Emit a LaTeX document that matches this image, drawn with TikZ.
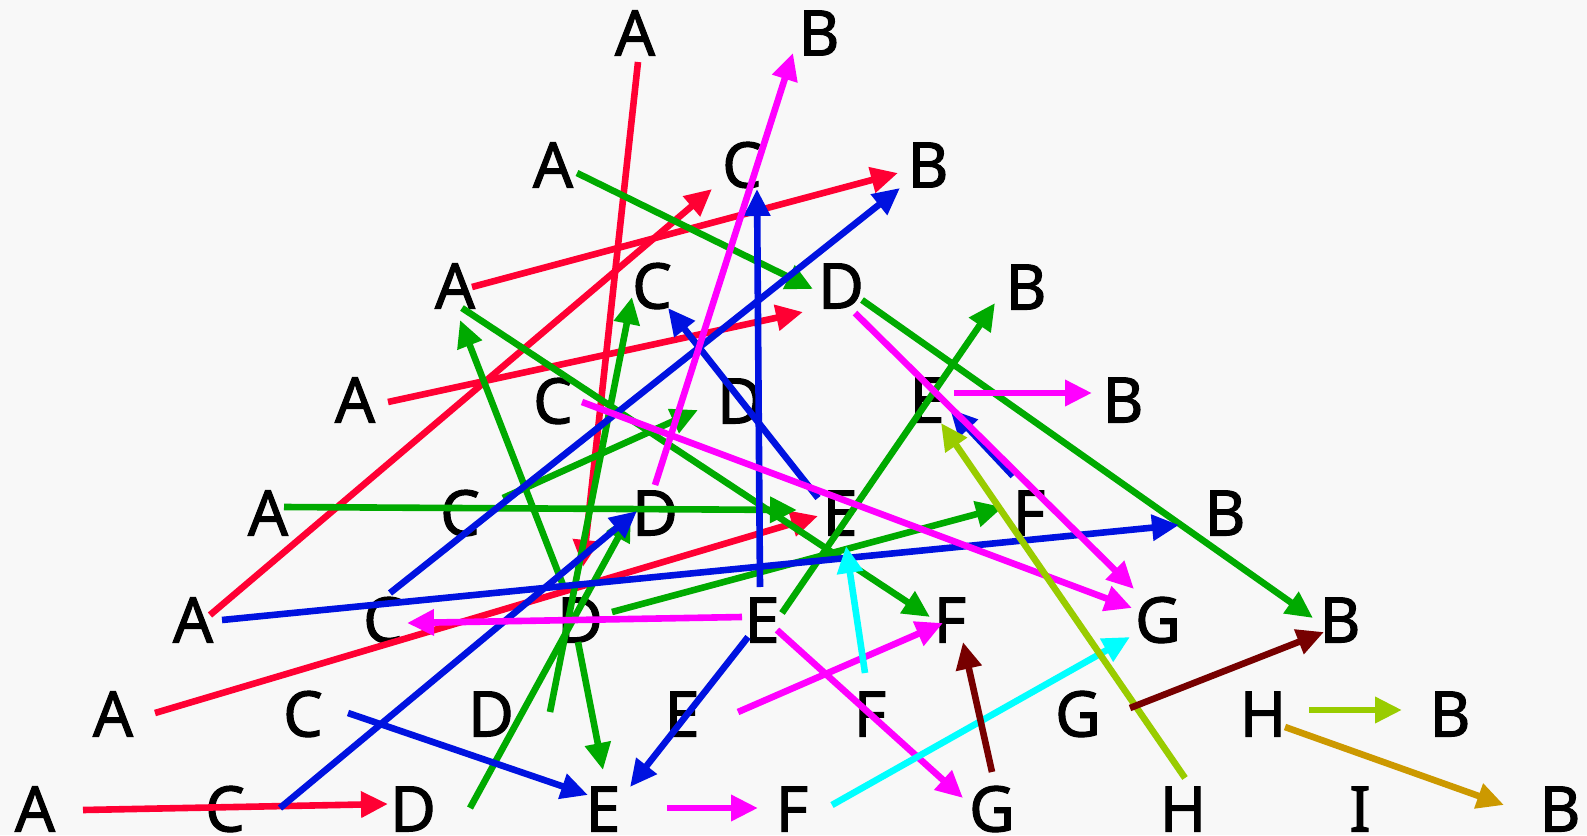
\documentclass[tikz,border=0pt]{standalone}
\usepackage{fontspec}
\setmainfont{Noto Sans}
\newfontfamily\lblfont{Noto Sans}[BoldFont={Noto Sans},BoldFeatures={FakeBold=1.6}]
\usetikzlibrary{arrows.meta,calc}
\definecolor{bgcol}{HTML}{F8F8F8}
\definecolor{cRed}{HTML}{FF0033}
\definecolor{cGreen}{HTML}{00AA00}
\definecolor{cBlue}{HTML}{0012E0}
\definecolor{cMag}{HTML}{FF00FF}
\definecolor{cCyan}{HTML}{00FFFF}
\definecolor{cOlive}{HTML}{99CC00}
\definecolor{cDark}{HTML}{770000}
\definecolor{cGold}{HTML}{CC9900}
\tikzset{
  lbl/.style={inner sep=0pt, text=black, font=\lblfont\bfseries\fontsize{63}{63}\selectfont},
  conn/.style={line width=6.6pt, -{Triangle[length=27pt,width=25pt]}},
}
% connector from (node + offset) to (node + offset)
\newcommand\link[5]{\draw[conn,#1] ($(#2)+(#3)$) -- ($(#4)+(#5)$);}
\begin{document}
\begin{tikzpicture}[x=1pt,y=-1pt]
\fill[bgcol] (0,0) rectangle (1587,835);
\useasboundingbox (0,0) rectangle (1587,835);
% row 1
\node[lbl] (a1) at (635,33) {A};
\node[lbl] (b1) at (819,33) {B};
% row 2
\node[lbl] (a2) at (553,165) {A};
\node[lbl] (c2) at (742,165) {C};
\node[lbl] (b2) at (928,165) {B};
% row 3
\node[lbl] (a3) at (455,286) {A};
\node[lbl] (c3) at (652,286) {C};
\node[lbl] (d3) at (841,286) {D};
\node[lbl] (b3) at (1026,287) {B};
% row 4
\node[lbl] (a4) at (355,400) {A};
\node[lbl] (c4) at (553,401) {C};
\node[lbl] (d4) at (740,401) {D};
\node[lbl] (e4) at (927,400) {E};
\node[lbl] (b4) at (1123,400) {B};
% row 5
\node[lbl] (a5) at (268,513) {A};
\node[lbl] (c5) at (460,513) {C};
\node[lbl] (d5) at (655,513) {D};
\node[lbl] (e5) at (840,513) {E};
\node[lbl] (f5) at (1029,513) {F};
\node[lbl] (b5) at (1225,513) {B};
% row 6
\node[lbl] (a6) at (193,620) {A};
\node[lbl] (c6) at (383,620) {C};
\node[lbl] (d6) at (580,620) {D};
\node[lbl] (e6) at (762,620) {E};
\node[lbl] (f6) at (950,620) {F};
\node[lbl] (g6) at (1158,620) {G};
\node[lbl] (b6) at (1340,620) {B};
% row 7
\node[lbl] (a7) at (113,714) {A};
\node[lbl] (c7) at (303,714) {C};
\node[lbl] (d7) at (491,714) {D};
\node[lbl] (e7) at (682,714) {E};
\node[lbl] (f7) at (870,714) {F};
\node[lbl] (g7) at (1078,714) {G};
\node[lbl] (h7) at (1263,714) {H};
\node[lbl] (b7) at (1450,714) {B};
% row 8
\node[lbl] (a8) at (35,809) {A};
\node[lbl] (c8) at (225,809) {C};
\node[lbl] (d8) at (413,809) {D};
\node[lbl] (e8) at (603,809) {E};
\node[lbl] (f8) at (792,809) {F};
\node[lbl] (g8) at (992,809) {G};
\node[lbl] (h8) at (1183,809) {H};
\node[lbl] (i8) at (1360,809) {I};
\node[lbl] (b8) at (1560,809) {B};

% red
\link{cRed}{a1}{3,29}{d6}{3,-53}
\link{cRed}{a3}{17,1}{b2}{-30,8}
\link{cRed}{a6}{17,-5}{c2}{-30,24}
\link{cRed}{a4}{33,2}{d3}{-38,26}
\link{cRed}{a7}{42,-1}{e5}{-22,3}
\link{cRed}{a8}{48,1}{d8}{-25,-5}
% green
\link{cGreen}{a2}{24,8}{d3}{-28,3}
\link{cGreen}{a3}{7,22}{f6}{-20,-3}
\link{cGreen}{c5}{43,-15}{d4}{-42,9}
\link{cGreen}{a5}{16,-6}{e5}{-43,-3}
\link{cGreen}{d6}{-2,22}{e8}{0,-39}
\link{cGreen}{d7}{59,-2}{c3}{-20,11}
\link{cGreen}{d6}{32,-8}{f5}{-26,-6}
\link{cGreen}{e6}{20,-7}{b3}{-31,16}
\link{cGreen}{d3}{21,14}{b6}{-27,-2}
\link{cGreen}{d8}{57,-1}{d5}{-24,1}
\link{cGreen}{d6}{-17,-35}{a3}{5,34}
% blue
\link{cBlue}{c6}{7,-27}{b2}{-28,23}
\link{cBlue}{a6}{29,0}{b5}{-46,12}
\link{cBlue}{c8}{55,-1}{d5}{-18,-2}
\link{cBlue}{c7}{45,-1}{e8}{-15,-14}
\link{cBlue}{e6}{-14,17}{e8}{27,-22}
\link{cBlue}{e6}{-2,-33}{c2}{15,24}
\link{cBlue}{e5}{-22,-15}{c3}{16,22}
\link{cBlue}{f5}{-16,-37}{e4}{23,9}
% magenta
\link{cMag}{d5}{0,-28}{b1}{-26,20}
\link{cMag}{c4}{29,1}{g6}{-26,-12}
\link{cMag}{d3}{14,27}{g6}{-24,-31}
\link{cMag}{e4}{27,-7}{b4}{-31,-7}
\link{cMag}{e6}{-20,-3}{c6}{24,3}
\link{cMag}{e6}{15,10}{g8}{-29,-11}
\link{cMag}{e7}{56,-2}{f6}{-7,3}
\link{cMag}{e8}{64,-1}{f8}{-34,-1}
% cyan
\link{cCyan}{f7}{-5,-41}{e5}{6,33}
\link{cCyan}{f8}{40,-4}{g6}{-28,17}
% olive
\link{cOlive}{h8}{2,-31}{e4}{14,23}
\link{cOlive}{h7}{46,-4}{b7}{-48,-4}
% dark red
\link{cDark}{g8}{0,-37}{f6}{13,22}
\link{cDark}{g7}{52,-6}{b6}{-16,12}
% gold
\link{cGold}{h7}{22,13}{b8}{-56,-4}
\end{tikzpicture}
\end{document}
